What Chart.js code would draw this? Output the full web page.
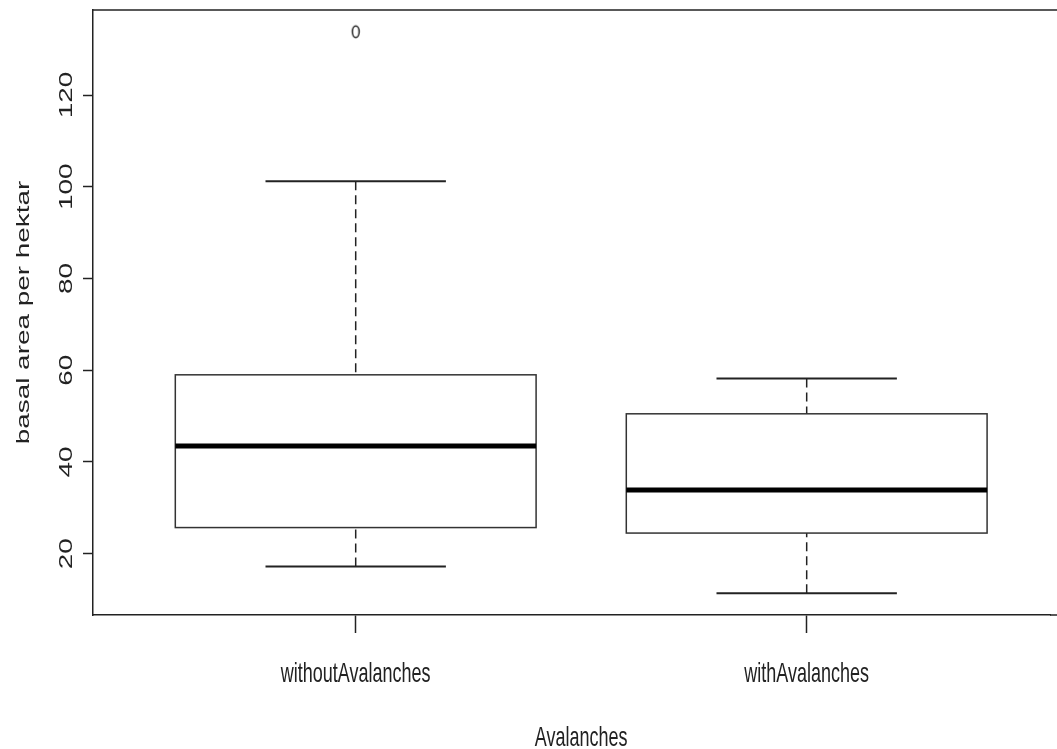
<!DOCTYPE html>
<html>
<head>
<meta charset="utf-8">
<script src="https://cdn.jsdelivr.net/npm/chart.js@4.4.1/dist/chart.umd.min.js"></script>
<style>
  body { margin: 0; background: #fff; }
  canvas { display: block; }
</style>
</head>
<body>
<canvas id="myChart" width="1057" height="749"></canvas>
<script>
// box statistics
var categories = ["withoutAvalanches", "withAvalanches"];
var lowerWhisker = [17.2, 11.4];
var lowerQuartile = [25.7, 24.5];
var medians = [43.5, 33.9];
var upperQuartile = [59.0, 50.5];
var upperWhisker = [101.2, 58.2];
var outliers = [[133.8], []];
var yTickValues = [20, 40, 60, 80, 100, 120];
var xTitle = "Avalanches";
var yTitle = "basal area per hektar";

var ink = "#222";
var stretch = 1.55; // text in the picture is drawn taller than wide

// open ellipse used for outliers
var ellipse = document.createElement("canvas");
ellipse.width = 12;
ellipse.height = 16;
(function () {
  var c = ellipse.getContext("2d");
  c.strokeStyle = ink;
  c.lineWidth = 1.5;
  c.beginPath();
  c.ellipse(6, 8, 3.4, 5.8, 0, 0, Math.PI * 2);
  c.stroke();
})();

var outlierPoints = [];
outliers.forEach(function (vals, i) {
  vals.forEach(function (v) {
    outlierPoints.push({ x: i + 1, y: v });
  });
});

function line(ctx, x1, y1, x2, y2) {
  ctx.beginPath();
  ctx.moveTo(x1, y1);
  ctx.lineTo(x2, y2);
  ctx.stroke();
}

var boxPlugin = {
  id: "boxes",
  afterDatasetsDraw: function (chart) {
    var ctx = chart.ctx;
    var x = chart.scales.x, y = chart.scales.y;
    ctx.save();
    categories.forEach(function (c, i) {
      var pos = i + 1;
      var xc = x.getPixelForValue(pos);
      var xl = x.getPixelForValue(pos - 0.4), xr = x.getPixelForValue(pos + 0.4);
      var cl = x.getPixelForValue(pos - 0.2), cr = x.getPixelForValue(pos + 0.2);
      var yLo = y.getPixelForValue(lowerWhisker[i]);
      var yQ1 = y.getPixelForValue(lowerQuartile[i]);
      var yMed = y.getPixelForValue(medians[i]);
      var yQ3 = y.getPixelForValue(upperQuartile[i]);
      var yHi = y.getPixelForValue(upperWhisker[i]);

      ctx.strokeStyle = ink;
      ctx.lineWidth = 1.5;
      ctx.setLineDash([9, 5]);
      line(ctx, xc, yHi, xc, yQ3);
      line(ctx, xc, yLo, xc, yQ1);
      ctx.setLineDash([]);

      ctx.lineWidth = 2;
      line(ctx, cl, yHi, cr, yHi);
      line(ctx, cl, yLo, cr, yLo);

      ctx.lineWidth = 1.5;
      ctx.strokeStyle = "#333";
      ctx.strokeRect(xl, yQ3, xr - xl, yQ1 - yQ3);

      ctx.strokeStyle = "#000";
      ctx.lineWidth = 5;
      line(ctx, xl, yMed, xr, yMed);
    });
    ctx.restore();
  },
  afterDraw: function (chart) {
    var ctx = chart.ctx;
    var x = chart.scales.x, y = chart.scales.y;
    var area = chart.chartArea;
    ctx.save();
    // top of the frame
    ctx.strokeStyle = ink;
    ctx.lineWidth = 1.5;
    line(ctx, area.left, area.top, chart.width, area.top);
    line(ctx, area.right, area.bottom, chart.width, area.bottom);

    ctx.fillStyle = ink;
    ctx.font = "18px 'Liberation Sans', Arial, sans-serif";
    ctx.textAlign = "center";
    ctx.textBaseline = "alphabetic";

    // y tick labels, rotated
    yTickValues.forEach(function (v) {
      ctx.save();
      ctx.translate(71.5, y.getPixelForValue(v));
      ctx.rotate(-Math.PI / 2);
      ctx.scale(stretch, 1);
      ctx.fillText(String(v), 0, 0);
      ctx.restore();
    });

    // y title
    ctx.save();
    ctx.translate(29, (area.top + area.bottom) / 2);
    ctx.rotate(-Math.PI / 2);
    ctx.scale(stretch, 1);
    ctx.fillText(yTitle, 0, 0);
    ctx.restore();

    // x tick labels
    categories.forEach(function (c, i) {
      ctx.save();
      ctx.translate(x.getPixelForValue(i + 1), 682);
      ctx.scale(1, stretch);
      ctx.fillText(c, 0, 0);
      ctx.restore();
    });

    // x title
    ctx.save();
    ctx.translate(x.getPixelForValue(1.5), 746);
    ctx.scale(1, stretch);
    ctx.fillText(xTitle, 0, 0);
    ctx.restore();

    ctx.restore();
  }
};

var ctx = document.getElementById("myChart").getContext("2d");
var myChart = new Chart(ctx, {
  type: "scatter",
  data: {
    datasets: [
      {
        label: "outliers",
        data: outlierPoints,
        pointStyle: ellipse,
        pointRadius: 6,
      },
    ],
  },
  options: {
    responsive: false,
    animation: false,
    layout: { padding: { top: 10, left: 0, right: 0, bottom: 0 } },
    plugins: {
      legend: { display: false },
      tooltip: { enabled: false },
    },
    scales: {
      x: {
        type: "linear",
        min: 0.4175,
        max: 2.5395,
        afterBuildTicks: function (axis) {
          axis.ticks = categories.map(function (c, i) {
            return { value: i + 1 };
          });
        },
        afterFit: function (axis) {
          axis.height = 134;
        },
        ticks: { display: false },
        grid: {
          drawOnChartArea: false,
          drawTicks: true,
          tickLength: 18,
          tickColor: ink,
          tickWidth: 1.5,
        },
        border: { color: ink, width: 1.5 },
      },
      y: {
        min: 6.64,
        max: 138.53,
        afterBuildTicks: function (axis) {
          axis.ticks = yTickValues.map(function (v) {
            return { value: v };
          });
        },
        afterFit: function (axis) {
          axis.width = 93;
        },
        ticks: { display: false },
        grid: {
          drawOnChartArea: false,
          drawTicks: true,
          tickLength: 10,
          tickColor: ink,
          tickWidth: 1.5,
        },
        border: { color: ink, width: 1.5 },
      },
    },
  },
  plugins: [boxPlugin],
});
</script>
</body>
</html>
